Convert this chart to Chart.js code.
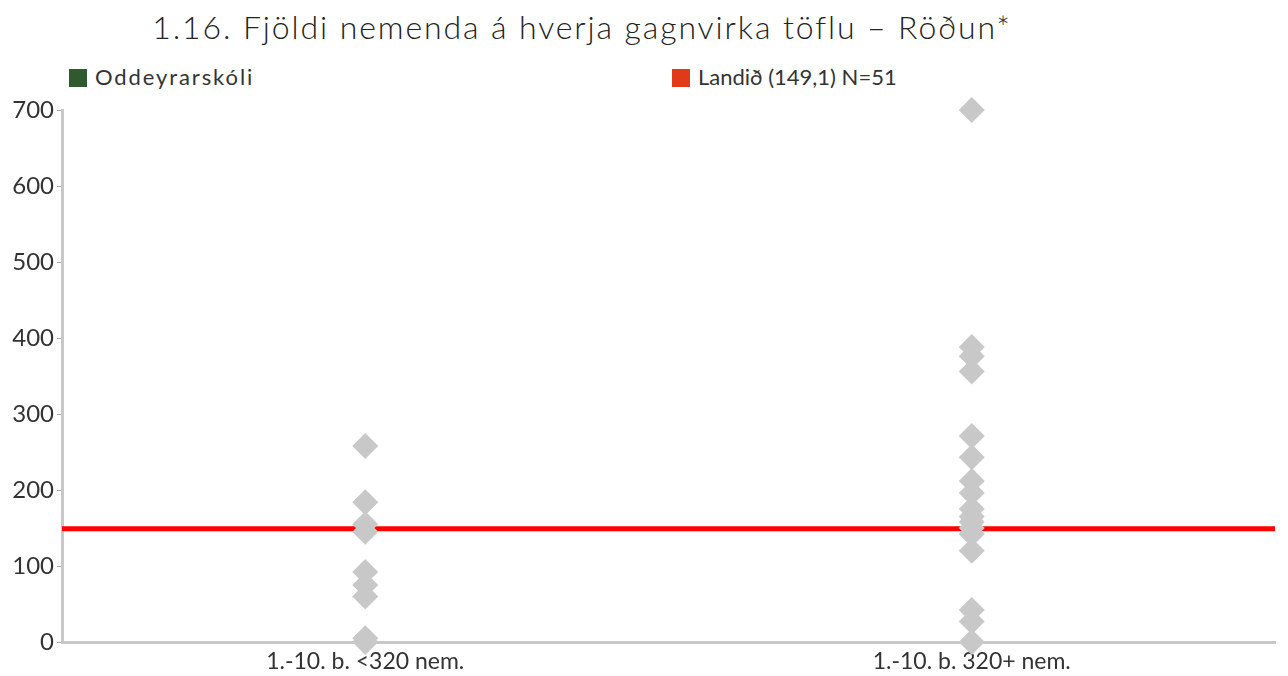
<!DOCTYPE html>
<html>
<head>
<meta charset="utf-8">
<script src="https://cdn.jsdelivr.net/npm/chart.js@4.4.0/dist/chart.umd.min.js"></script>
<style>
  html, body { margin: 0; padding: 0; background: #fff; }
  #wrap { position: relative; width: 1288px; height: 676px; overflow: hidden; font-family: Lato, "Noto Sans", sans-serif; color: #333; }
  #title { position: absolute; left: 0; top: 7px; width: 1164px; text-align: center; font-size: 32px; font-weight: 300; letter-spacing: 1.9px; white-space: nowrap; color: #222; }
  .leg { position: absolute; top: 63px; font-size: 22px; white-space: nowrap; line-height: 28px; color: #333; }
  .sw { display: inline-block; width: 18px; height: 18px; vertical-align: -2px; margin-right: 8px; }
  canvas { position: absolute; left: 0; top: 0; }
</style>
</head>
<body>
<div id="wrap">
  <div id="title">1.16. Fjöldi nemenda á hverja gagnvirka töflu – Röðun*</div>
  <div class="leg" style="left:69px; letter-spacing:1.9px"><span class="sw" style="background:#2f5a30"></span>Oddeyrarskóli</div>
  <div class="leg" style="left:672px; letter-spacing:0px"><span class="sw" style="background:#e03a1a"></span>Landið (149,1) N=51</div>
  <canvas id="c" width="1288" height="676"></canvas>
</div>
<script>
const categories = ["1.-10. b. <320 nem.", "1.-10. b. 320+ nem."];
const smallSchools = [258, 184, 155, 145, 92, 75, 60, 5, 0];
const largeSchools = [700, 388, 376, 356, 271, 243, 212, 196, 175, 165, 158, 150, 142, 120, 42, 27, 0];
const schoolValues = [];
const nationalAverage = 149.1;
const yTicks = [0, 100, 200, 300, 400, 500, 600, 700];

const points = [];
smallSchools.forEach(v => points.push({x: 0.5, y: v}));
largeSchools.forEach(v => points.push({x: 1.5, y: v}));

new Chart(document.getElementById('c'), {
  data: {
    datasets: [
      {
        type: 'scatter',
        label: 'Skólar',
        data: points,
        pointStyle: 'rectRot',
        pointRadius: 13,
        pointHoverRadius: 13,
        backgroundColor: '#c8c8c8',
        borderWidth: 0,
        clip: false
      },
      {
        type: 'line',
        label: 'Landið',
        data: [{x: 0, y: nationalAverage}, {x: 2, y: nationalAverage}],
        borderColor: '#ff0000',
        borderWidth: 5,
        pointRadius: 0,
        fill: false
      }
    ]
  },
  options: {
    responsive: false,
    animation: false,
    events: [],
    layout: { padding: { left: 0, right: 10, top: 110, bottom: 0 } },
    plugins: { legend: { display: false }, tooltip: { enabled: false } },
    scales: {
      x: {
        type: 'linear',
        min: 0, max: 2,
        afterBuildTicks: s => { s.ticks = [{value: 0.5}, {value: 1.5}]; },
        afterFit: s => { s.height = 34; },
        ticks: {
          callback: v => v === 0.5 ? categories[0] : (v === 1.5 ? categories[1] : ''),
          color: '#333', font: { family: 'Lato', size: 23 }, padding: 6, maxRotation: 0, autoSkip: false
        },
        grid: { display: false, drawTicks: false },
        border: { color: '#c8c8c8', width: 3 }
      },
      y: {
        type: 'linear',
        min: 0, max: 700,
        afterBuildTicks: s => { s.ticks = yTicks.map(v => ({value: v})); },
        afterFit: s => { s.width = 62; },
        ticks: { color: '#333', font: { family: 'Lato', size: 24 }, padding: 3 },
        grid: { drawOnChartArea: false, tickLength: 5, color: '#aaa', tickWidth: 1 },
        border: { color: '#c8c8c8', width: 3 }
      }
    }
  }
});
</script>
</body>
</html>
